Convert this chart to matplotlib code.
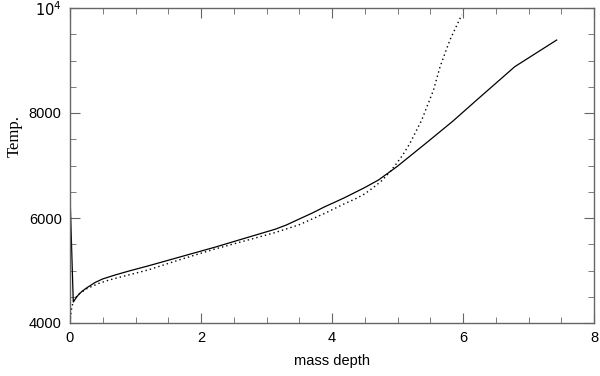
import matplotlib
matplotlib.use('Agg')
import matplotlib.pyplot as plt
from matplotlib.ticker import MultipleLocator, FixedLocator

# solid curve (mass depth, temperature)
solid_x = [0.0, 0.05, 0.08, 0.12, 0.18, 0.25, 0.38, 0.5, 0.69, 0.9, 1.2, 1.7, 2.21, 2.72,
           3.13, 3.3, 3.49, 3.7, 3.89, 4.05, 4.2, 4.5, 4.71, 4.99, 5.45, 5.85, 6.21,
           6.79, 7.43]
solid_t = [6450, 4400, 4455, 4525, 4600, 4665, 4770, 4840, 4915, 4990, 5090, 5265, 5443,
           5633, 5785, 5865, 5975, 6095, 6215, 6305, 6392, 6580, 6724, 6977, 7440, 7850,
           8248, 8882, 9390]

# dotted curve
dot_x = [0.0, 0.01, 0.03, 0.06, 0.1, 0.15, 0.25, 0.43, 0.6, 0.8, 1.2, 1.7, 2.2, 2.72,
         3.13, 3.49, 3.89, 4.2, 4.35, 4.5, 4.62, 4.75, 4.88, 4.98, 5.08, 5.19, 5.37,
         5.55, 5.65, 5.8, 5.98]
dot_t = [4000, 4150, 4320, 4430, 4505, 4565, 4650, 4750, 4820, 4885, 5013, 5215, 5405,
         5582, 5722, 5867, 6089, 6278, 6360, 6460, 6570, 6700, 6870, 7030, 7200, 7423,
         7867, 8438, 8882, 9390, 9870]

x_ticks = [0, 2, 4, 6, 8]
y_ticks = [4000, 6000, 8000, 10000]
y_tick_labels = ['4000', '6000', '8000', r'$10^4$']

fig = plt.figure(figsize=(6.0, 3.76), dpi=100)
ax = fig.add_axes([70 / 600, 1 - 323 / 376, 524 / 600, 315 / 376])

ax.plot(solid_x, solid_t, color='black', lw=0.9)
ax.plot(dot_x, dot_t, color='black', lw=1.0, linestyle=(0, (1, 2.2)))

ax.set_xlim(0, 8)
ax.set_ylim(4000, 10000)
ax.xaxis.set_major_locator(FixedLocator(x_ticks))
ax.xaxis.set_minor_locator(MultipleLocator(0.5))
ax.yaxis.set_major_locator(FixedLocator(y_ticks))
ax.yaxis.set_minor_locator(MultipleLocator(500))
ax.set_yticklabels(y_tick_labels)

axis_col = '#666666'
for s in ax.spines.values():
    s.set_color(axis_col)
    s.set_linewidth(1.0)
ax.tick_params(which='both', direction='in', top=True, right=True, color=axis_col,
               labelsize=10.5, pad=6)
ax.tick_params(which='major', length=7)
ax.tick_params(which='minor', length=4)
for lab in ax.get_xticklabels() + ax.get_yticklabels():
    lab.set_family('Liberation Sans')

ax.set_xlabel('mass depth', family='Liberation Sans', fontsize=10.5, labelpad=6)
ax.set_ylabel('Temp.', family='Liberation Serif', fontsize=12)
ax.yaxis.set_label_coords(-0.09, 0.595)

fig.savefig('out.png', dpi=100)
